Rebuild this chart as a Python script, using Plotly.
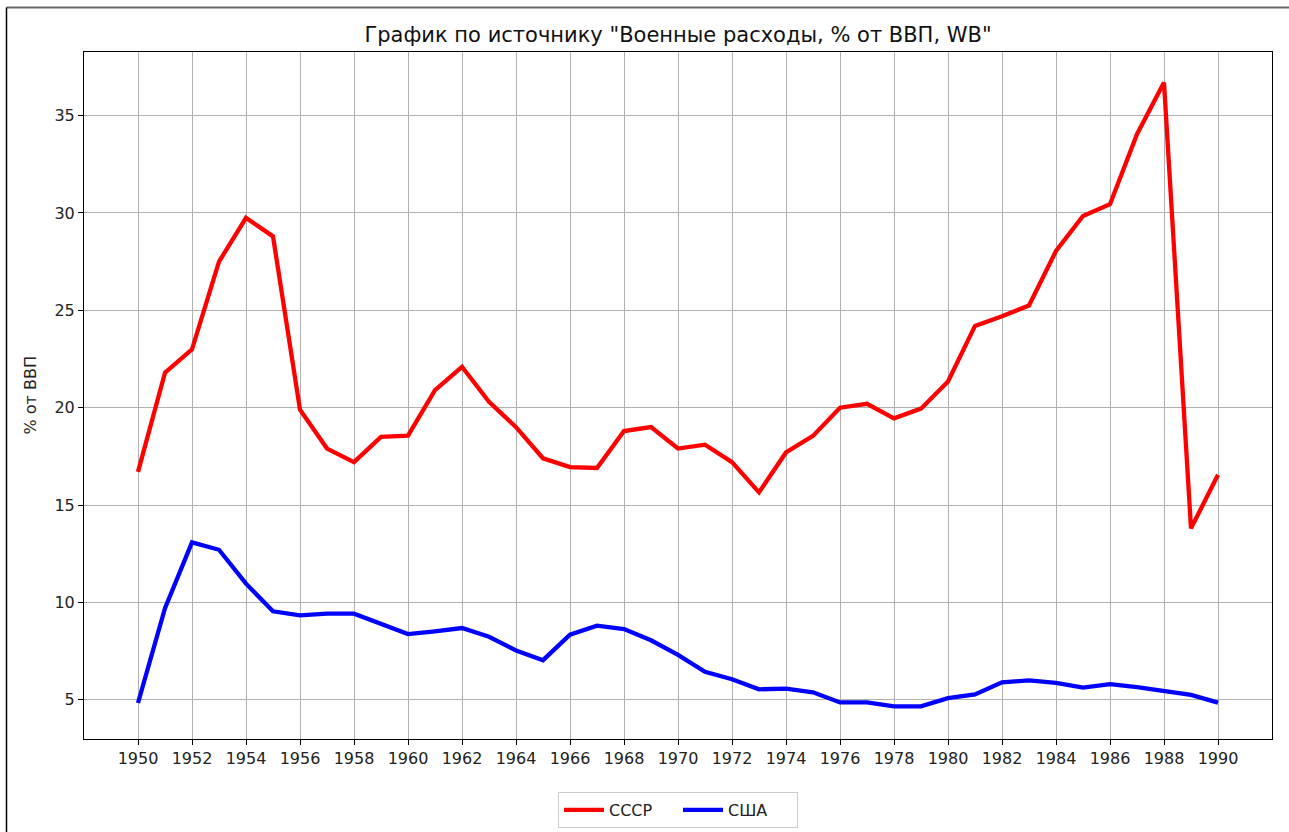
import plotly.graph_objects as go

years = list(range(1950, 1991))
ussr = [16.7, 21.8, 23.0, 27.5, 29.75, 28.8, 19.9, 17.9, 17.2, 18.5,
        18.56, 20.9, 22.1, 20.3, 19.0, 17.4, 16.95, 16.9, 18.8, 19.0,
        17.9, 18.1, 17.2, 15.65, 17.7, 18.55, 20.0, 20.2, 19.45, 19.95,
        21.35, 24.2, 24.7, 25.25, 28.05, 29.85, 30.45, 34.05, 36.7, 13.8,
        16.55]
usa = [4.83, 9.7, 13.08, 12.7, 10.96, 9.54, 9.33, 9.42, 9.42, 8.92,
       8.37, 8.51, 8.68, 8.23, 7.53, 7.03, 8.34, 8.8, 8.63, 8.05,
       7.3, 6.43, 6.05, 5.53, 5.57, 5.38, 4.86, 4.86, 4.66, 4.66,
       5.08, 5.27, 5.89, 5.99, 5.86, 5.62, 5.8, 5.64, 5.42, 5.25,
       4.85]
x_ticks = list(range(1950, 1991, 2))
y_ticks = [5, 10, 15, 20, 25, 30, 35]

title_text = 'График по источнику "Военные расходы, % от ВВП, WB"'
y_title = "% от ВВП"

W, H = 1289, 832
L, R, T, B = 84, 17, 52, 93
pw, ph = W - L - R, H - T - B

fig = go.Figure()
fig.add_trace(go.Scatter(x=years, y=ussr, mode="lines", name="СССР",
                         line=dict(color="#ff0000", width=4.3)))
fig.add_trace(go.Scatter(x=years, y=usa, mode="lines", name="США",
                         line=dict(color="#0000ff", width=4.3)))

font = "DejaVu Sans"
axis_common = dict(showgrid=True, gridcolor="#b0b0b0", gridwidth=1,
                   showline=True, linecolor="black", linewidth=1, mirror=True,
                   ticks="outside", ticklen=5, tickcolor="black", tickwidth=1,
                   zeroline=False, tickfont=dict(family=font, size=16, color="#222"))

fig.update_layout(
    width=W, height=H,
    margin=dict(l=L, r=R, t=T, b=B, autoexpand=False),
    paper_bgcolor="white", plot_bgcolor="white",
    title=dict(text=title_text, x=(L + pw / 2) / W, xanchor="center",
               y=1 - 35 / H, yanchor="middle", yref="container",
               font=dict(family=font, size=21, color="#111")),
    xaxis=dict(range=[1948, 1992], tickvals=x_ticks, **axis_common),
    yaxis=dict(range=[2.98, 38.27], tickvals=y_ticks, **axis_common),
    showlegend=True,
    legend=dict(orientation="h", x=(L + pw / 2) / W, xanchor="center",
                xref="container", yref="container",
                y=1 - 792 / H, yanchor="top",
                itemwidth=40, entrywidth=64,
                bordercolor="#cccccc", borderwidth=1, bgcolor="white",
                font=dict(family=font, size=16, color="#222")),
)

fig.add_annotation(text=y_title, textangle=-90, xref="paper", yref="paper",
                   x=(30 - L) / pw, y=0.5, xanchor="center", yanchor="middle",
                   showarrow=False, font=dict(family=font, size=16, color="#222"))

# outer frame lines of the picture
top_y = (T + ph - 7.5) / ph
left_x = (6.5 - L) / pw
fig.add_shape(type="line", xref="paper", yref="paper",
              x0=left_x, x1=(W - L) / pw, y0=top_y, y1=top_y,
              line=dict(color="#666666", width=2))
fig.add_shape(type="line", xref="paper", yref="paper",
              x0=left_x, x1=left_x, y0=top_y, y1=(T + ph - H) / ph,
              line=dict(color="#000000", width=1.5))

fig.write_html("out.html", config={"displayModeBar": False},
               post_script="document.body.style.margin='0';document.body.style.overflow='hidden';")
